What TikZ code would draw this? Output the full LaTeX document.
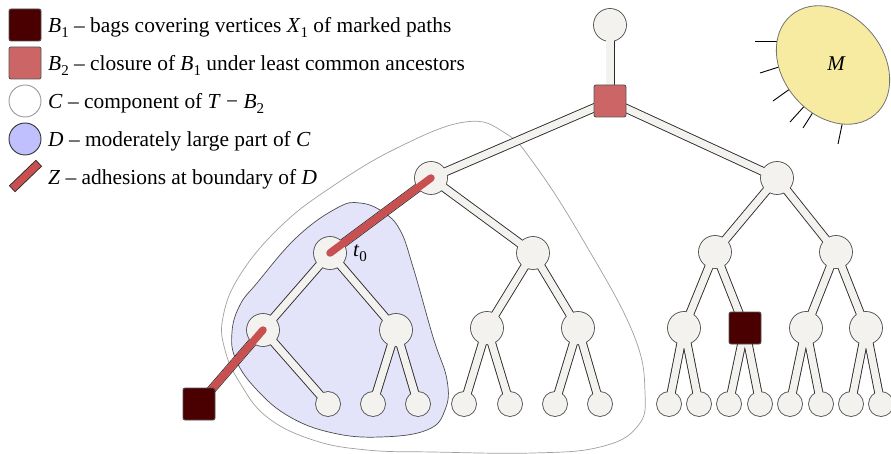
\documentclass[tikz,border=0pt]{standalone}
\usepackage{fontspec}
\setmainfont{Liberation Serif}
\definecolor{nodefill}{HTML}{F3F2EE}
\definecolor{edgeline}{HTML}{2A2A2A}
\definecolor{ringline}{HTML}{555555}
\definecolor{bone}{HTML}{4A0000}
\definecolor{btwo}{HTML}{CC6666}
\definecolor{zred}{HTML}{C85050}
\definecolor{dblue}{HTML}{E3E3FA}
\definecolor{dleg}{HTML}{C0C0FF}
\definecolor{myellow}{HTML}{F7EBA1}
\newcommand\lsub[1]{\raisebox{-0.22em}{\fontsize{15}{15}\selectfont #1}}
\tikzset{
  edgeout/.style={line width=9, draw=edgeline},
  edgein/.style={line width=7.2, draw=nodefill},
  zline/.style={line width=7.5, draw=zred, line cap=round},
  bonebox/.style={rectangle, rounded corners=2, minimum size=32, inner sep=0, fill=bone, draw=ringline, line width=0.9},
  btwobox/.style={rectangle, rounded corners=2, minimum size=32, inner sep=0, fill=btwo, draw=ringline, line width=0.9},
  lab/.style={anchor=base west, inner sep=0, font=\fontsize{21.4}{25}\selectfont},
}
\begin{document}
\begin{tikzpicture}[x=1pt,y=-1pt]
\useasboundingbox (0,0) rectangle (891,454);
% positions
\foreach \n/\x/\y in {root/610/25, b2/610/101, a/431/178, b/777/178,
  aa/330/253, ab/533/253, ba/715/252, bb/836/252,
  aaa/263/330, aab/396/330, aba/487/328, abb/578/328, baa/684/328, bab/745/328, bba/806/328, bbb/866/328,
  aaaa/199/404, aaab/328/404, aaba/373/404, aabb/418/404, abaa/464/404, abab/510/404, abba/555/404, abbb/600/404,
  baaa/669/404, baab/699/404, baba/729/404, babb/760/404, bbaa/790/404, bbab/821/404, bbba/851/404, bbbb/881/404}
  \coordinate (\n) at (\x,\y);
% component C
\draw[gray!75, line width=0.7] plot[smooth cycle, tension=0.7] coordinates {
  (465,122) (505,133) (535,165) (583,240) (633,333) (645,393) (637,427) (600,447)
  (533,453) (433,452) (367,450) (313,440) (267,417) (240,383) (225,350) (223,317)
  (240,275) (280,227) (330,188) (397,148)};
% part D
\draw[fill=dblue, draw=black!70, line width=0.7] plot[smooth cycle, tension=0.7] coordinates {
  (360,203) (383,212) (400,230) (413,267) (433,337) (447,380) (445,410) (427,430)
  (380,437) (333,433) (290,417) (257,390) (236,360) (232,332) (240,305) (257,283)
  (297,237) (337,208)};
% M
\foreach \i/\p/\q in {1/{(755,41)}/{(778,41)}, 2/{(760,73)}/{(782,66)}, 3/{(773,101)}/{(794,86)},
  4/{(790,122)}/{(809,101)}, 5/{(803,128)}/{(817,106)}, 6/{(838,144)}/{(843,120)}}
  \draw[line width=0.9, black] \p -- \q;
\draw[fill=myellow, draw=black!55, line width=0.8, shift={(833,65)}, rotate=-50] (0,0) ellipse [x radius=65, y radius=50];
\node[font=\fontsize{21}{24}\selectfont\itshape, inner sep=0] (mlab) at (836,64) {M};
% edges
\def\edgelist{root/b2, b2/a, b2/b, a/aa, a/ab, b/ba, b/bb, aa/aaa, aa/aab, ab/aba, ab/abb, ba/baa, ba/bab, bb/bba, bb/bbb,
  aaa/aaaa, aaa/aaab, aab/aaba, aab/aabb, aba/abaa, aba/abab, abb/abba, abb/abbb, baa/baaa, baa/baab, bab/baba, bab/babb,
  bba/bbaa, bba/bbab, bbb/bbba, bbb/bbbb}
\foreach \u/\v in \edgelist \draw[edgeout] (\u) -- (\v);
\foreach \n in {root, a, b, aa, ab, ba, bb, aaa, aab, aba, abb, baa, bba, bbb}
  \fill[ringline] (\n) circle (16.9);
\foreach \n in {aaab, aaba, aabb, abaa, abab, abba, abbb, baaa, baab, baba, babb, bbaa, bbab, bbba, bbbb}
  \fill[ringline] (\n) circle (12.9);
\foreach \u/\v in \edgelist \draw[edgein] (\u) -- (\v);
\foreach \n in {root, a, b, aa, ab, ba, bb, aaa, aab, aba, abb, baa, bba, bbb}
  \fill[nodefill] (\n) circle (16);
\foreach \n in {aaab, aaba, aabb, abaa, abab, abba, abbb, baaa, baab, baba, babb, bbaa, bbab, bbba, bbbb}
  \fill[nodefill] (\n) circle (12);
% adhesions Z
\draw[zline] (a) -- (aa);
\draw[zline] (aaa) -- (aaaa);
% bags
\node[btwobox] (sqb2) at (b2) {};
\node[bonebox] (sqbab) at (bab) {};
\node[bonebox] (sqaaaa) at (aaaa) {};
\node[font=\fontsize{21}{24}\selectfont, inner sep=0, anchor=west] (tzero) at (353,253) {\textit{t}\lsub{0}};
% legend
\node[bonebox] (l1) at (25,25) {};
\node[btwobox] (l2) at (25,63) {};
\node[circle, minimum size=32, inner sep=0, draw=gray!80, fill=white, line width=0.9] (l3) at (25,101) {};
\node[circle, minimum size=32, inner sep=0, draw=black!80, fill=dleg, line width=0.9] (l4) at (25,139) {};
\coordinate (z1) at (12,189);
\coordinate (z2) at (39,163);
\draw[line width=9, edgeline] (z1) -- (z2);
\draw[line width=7.2, zred, shorten <=0.9, shorten >=0.9] (z1) -- (z2);
\node[lab] (t1) at (48,33) {\textit{B}\lsub{1} – bags covering vertices \textit{X}\lsub{1} of marked paths};
\node[lab] (t2) at (48,71) {\textit{B}\lsub{2} – closure of \textit{B}\lsub{1} under least common ancestors};
\node[lab] (t3) at (48,109) {\textit{C} – component of \textit{T} − \textit{B}\lsub{2}};
\node[lab] (t4) at (48,147) {\textit{D} – moderately large part of \textit{C}};
\node[lab] (t5) at (48,185) {\textit{Z} – adhesions at boundary of \textit{D}};
\end{tikzpicture}
\end{document}
